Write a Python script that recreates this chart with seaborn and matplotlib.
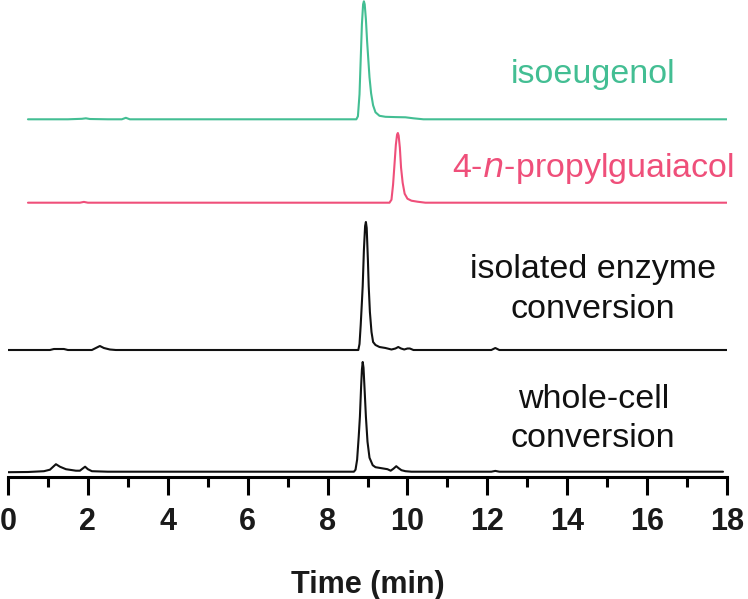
import numpy as np
import pandas as pd
import seaborn as sns
import matplotlib.pyplot as plt
from matplotlib.ticker import MultipleLocator

# Chromatogram traces: time (min) and signal above each baseline (a.u.)
iso_time = [0.5, 1.5, 1.85, 1.95, 2.05, 2.5, 2.85, 2.95, 3.05, 4.0, 6.0, 8.0, 8.72, 8.76, 8.80,
            8.83, 8.86, 8.89, 8.91, 8.93, 8.96, 8.99, 9.02, 9.05, 9.09, 9.14, 9.20, 9.30, 9.45,
            9.70, 9.95, 10.15, 10.4, 12.0, 14.0, 16.0, 18.0]
iso_signal = [0, 0, 0.5, 1, 0.3, 0, 0, 1.5, 0, 0, 0, 0, 0, 3, 25,
              60, 95, 115, 118, 115, 100, 78, 60, 42, 26, 14, 7, 3.5, 2.5,
              2.2, 2.0, 1.0, 0, 0, 0, 0, 0]

prop_time = [0.5, 1.8, 1.9, 2.0, 4.0, 6.0, 8.0, 9.55, 9.60, 9.64, 9.67, 9.71, 9.74, 9.76, 9.78,
             9.81, 9.84, 9.88, 9.93, 10.0, 10.1, 10.25, 10.45, 14.0, 18.0]
prop_signal = [0, 0, 0.8, 0, 0, 0, 0, 0, 3, 18, 35, 58, 68, 69.7, 67,
               55, 35, 20, 9, 4, 2, 1, 0, 0, 0]

enz_time = [0.0, 1.05, 1.15, 1.4, 1.5, 2.1, 2.2, 2.3, 2.4, 2.55, 2.7, 6.0, 8.77, 8.80, 8.83,
            8.86, 8.88, 8.91, 8.94, 8.96, 8.98, 9.01, 9.03, 9.06, 9.10, 9.14, 9.20, 9.30, 9.45,
            9.60, 9.70, 9.77, 9.84, 9.92, 10.0, 10.06, 10.15, 12.1, 12.2, 12.3, 18.0]
enz_signal = [0, 0, 1, 1, 0, 0, 2, 4, 2, 0.5, 0, 0, 0, 6, 25,
              48, 64, 100, 124, 128, 122, 90, 64, 38, 18, 8, 5, 3, 2,
              0.5, 1.5, 3, 1.5, 0.5, 1.5, 1.5, 0, 0, 2, 0, 0]

cell_time = [0.0, 0.5, 0.9, 1.05, 1.2, 1.3, 1.45, 1.7, 1.8, 1.88, 1.93, 2.0, 2.1, 2.5, 6.0,
             8.66, 8.70, 8.74, 8.78, 8.81, 8.84, 8.86, 8.88, 8.90, 8.93, 8.96, 9.0, 9.05, 9.13,
             9.20, 9.35, 9.50, 9.58, 9.65, 9.72, 9.78, 9.85, 9.95, 10.1, 12.1, 12.2, 12.3, 17.9]
cell_signal = [-0.5, -0.3, 0.5, 2, 7.5, 5, 2.5, 1, 1, 3.5, 5, 2.5, 0.5, 0, 0,
               0, 2, 12, 35, 55, 85, 102, 109.7, 104, 80, 55, 30, 14, 6.5,
               4.5, 3.5, 2.5, 1, 3, 5.5, 3.5, 1.5, 0.5, 0, 0, 0.8, 0, 0]

samples = ["isoeugenol", "4-n-propylguaiacol", "isolated enzyme conversion", "whole-cell conversion"]
times = [iso_time, prop_time, enz_time, cell_time]
signals = [iso_signal, prop_signal, enz_signal, cell_signal]

# stacking offsets and colours
offsets = [357.7, 274.3, 127, 5.3]
colors = ["#43be93", "#ef4f7a", "#111111", "#111111"]

# long-form table
frames = []
for name, t, s, off in zip(samples, times, signals, offsets):
    frames.append(pd.DataFrame({"time": t, "intensity": np.array(s) + off, "sample": name}))
df = pd.concat(frames, ignore_index=True)

sns.set_style("white")
plt.rcParams['font.family'] = ['Liberation Sans', 'DejaVu Sans']

fig = plt.figure(figsize=(7.48, 5.99), dpi=100)
ax = fig.add_axes([8 / 748, (599 - 477) / 599, 719 / 748, 477 / 599])

sns.lineplot(data=df, x="time", y="intensity", hue="sample", hue_order=samples,
             palette=dict(zip(samples, colors)), estimator=None, legend=False,
             linewidth=1.5, ax=ax)

ax.set_xlim(0, 18)
ax.set_ylim(0, 477)
sns.despine(ax=ax, left=True)
ax.set_yticks([])
ax.set_ylabel("")
ax.spines["bottom"].set_linewidth(2.2)
ax.spines["bottom"].set_color("black")

ax.xaxis.set_major_locator(MultipleLocator(2))
ax.xaxis.set_minor_locator(MultipleLocator(1))
ax.tick_params(axis="x", which="both", bottom=True, direction="out", width=2.2, color="black")
ax.tick_params(axis="x", which="major", length=13.2, pad=8.5, labelsize=22, labelcolor="#1a1a1a")
ax.tick_params(axis="x", which="minor", length=7.2)
for lab in ax.get_xticklabels():
    lab.set_fontweight("bold")
ax.set_xlabel("Time (min)", fontsize=22, fontweight="bold", color="#1a1a1a", labelpad=24)

# trace labels
label_x = 14.65
ax.text(label_x, 394, "isoeugenol", color=colors[0], fontsize=24.5, ha="center", va="baseline")
ax.text(label_x, 300, "4-$\\it{n}$-propylguaiacol", color=colors[1], fontsize=24.5,
        ha="center", va="baseline")
ax.text(label_x, 198.7, "isolated enzyme", color=colors[2], fontsize=24.5, ha="center", va="baseline")
ax.text(label_x, 158.7, "conversion", color=colors[2], fontsize=24.5, ha="center", va="baseline")
ax.text(label_x, 68.7, "whole-cell", color=colors[3], fontsize=24.5, ha="center", va="baseline")
ax.text(label_x, 30.3, "conversion", color=colors[3], fontsize=24.5, ha="center", va="baseline")

fig.savefig("out.png", dpi=100)
